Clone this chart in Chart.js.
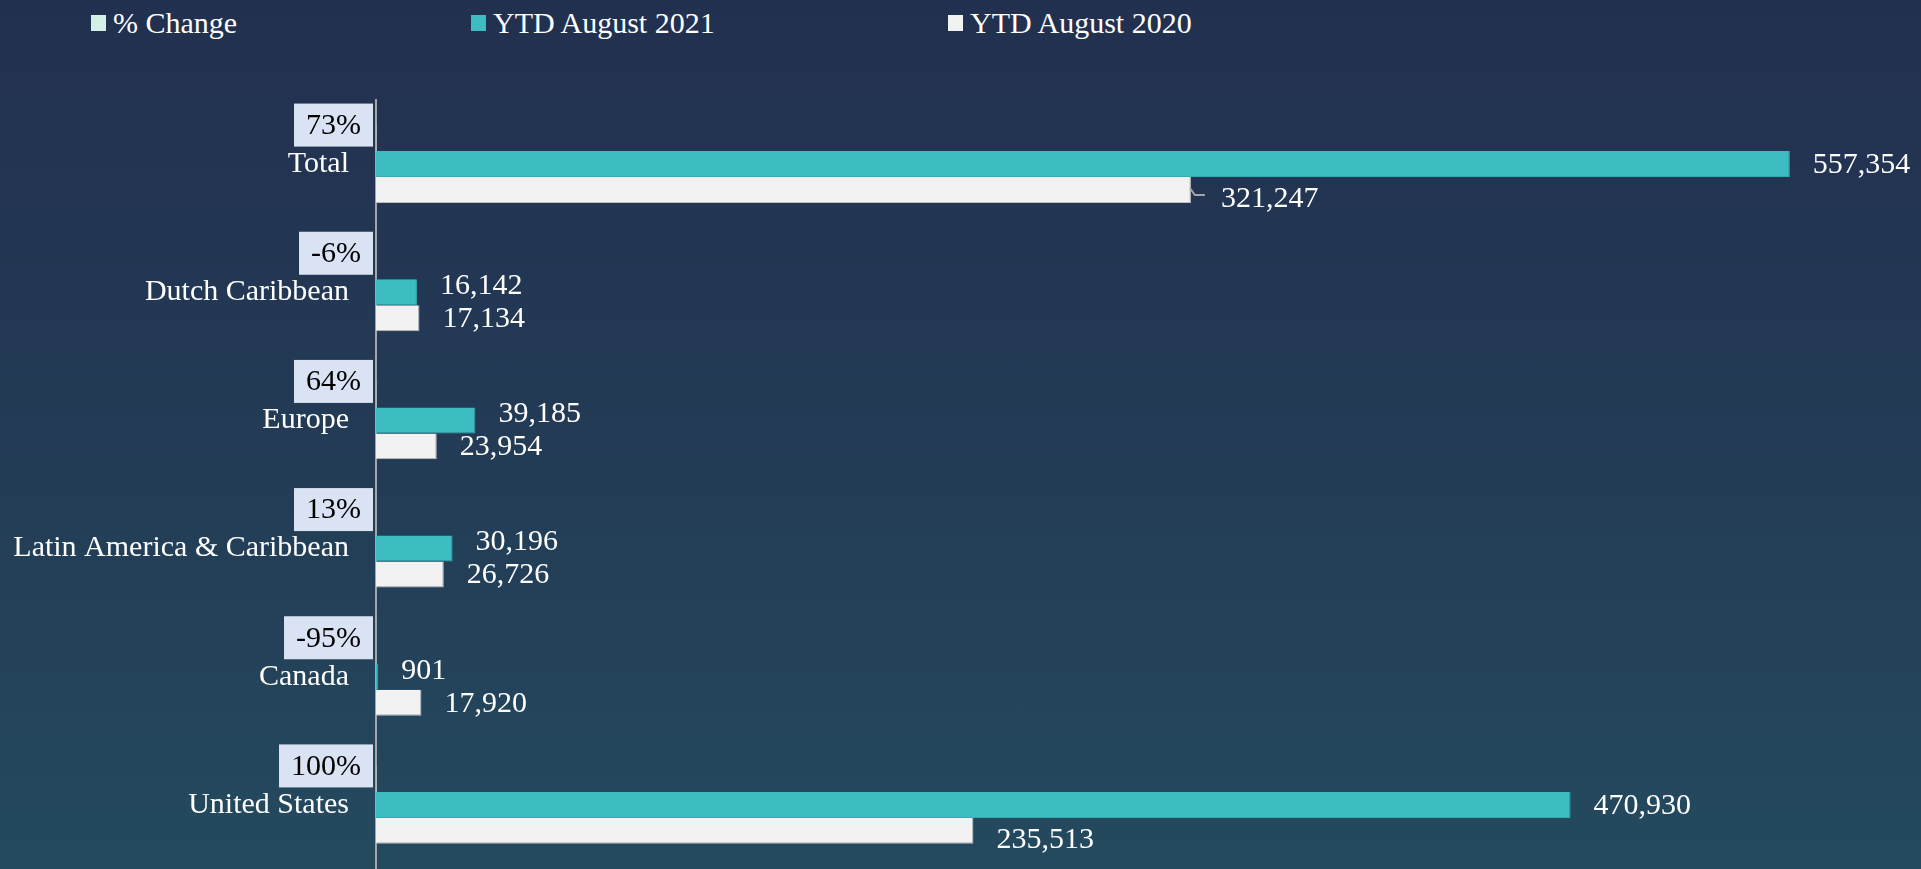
<!DOCTYPE html>
<html>
<head>
<meta charset="utf-8">
<script src="https://cdn.jsdelivr.net/npm/chart.js@4.4.0/dist/chart.umd.min.js"></script>
<style>
  html, body { margin: 0; padding: 0; }
  body {
    width: 1921px; height: 869px; overflow: hidden; position: relative;
    background: linear-gradient(to bottom, #22304f 0%, #233c56 55%, #244a5e 100%);
    font-family: "Liberation Serif", serif;
  }
  #wrap { position: absolute; left: 0; top: 0; width: 1921px; height: 869px; }
  #legend { position: absolute; top: 0; left: 0; width: 1921px; height: 46px; }
  .lg { position: absolute; top: 6px; height: 34px; display: flex; align-items: center; color: #fff; font-size: 30px; white-space: nowrap; }
  .lg i { display: inline-block; width: 15px; height: 16px; margin-right: 7px; }
</style>
</head>
<body>
<div id="legend"></div>
<div id="wrap"><canvas id="chart" width="1921" height="869"></canvas></div>
<script>
// Arrivals by market, YTD August
const regions = ['Total', 'Dutch Caribbean', 'Europe', 'Latin America & Caribbean', 'Canada', 'United States'];
const pctChange = [73, -6, 64, 13, -95, 100];
const ytd2021 = [557354, 16142, 39185, 30196, 901, 470930];
const ytd2020 = [321247, 17134, 23954, 26726, 17920, 235513];

const seriesNames = ['% Change', 'YTD August 2021', 'YTD August 2020'];
const seriesColors = ['#d4f0e6', '#3dbdc2', '#f2f2f2'];

const FONT = '"Liberation Serif", serif';
const fmt = v => v.toLocaleString('en-US');

// boxes with the % change, sitting above each group, right against the axis
const pctBoxes = {
    id: 'pctBoxes',
    afterDatasetsDraw(chart) {
        const ctx = chart.ctx;
        const ys = chart.scales.y;
        const axisX = chart.chartArea.left;
        ctx.save();
        ctx.font = '30px ' + FONT;
        ctx.textBaseline = 'middle';
        ctx.textAlign = 'center';
        pctChange.forEach((p, i) => {
            const txt = p + '%';
            const w = ctx.measureText(txt).width + 24;
            const h = 43;
            const cy = ys.getPixelForValue(i) - 39;
            const x0 = axisX - 3 - w;
            ctx.fillStyle = '#dae3f3';
            ctx.fillRect(x0, cy - h / 2, w, h);
            ctx.fillStyle = '#000';
            ctx.fillText(txt, x0 + w / 2, cy + 1);
        });
        ctx.restore();
    }
};

// value labels at the end of the bars
const valueLabels = {
    id: 'valueLabels',
    afterDatasetsDraw(chart) {
        const ctx = chart.ctx;
        ctx.save();
        ctx.font = '30px ' + FONT;
        ctx.fillStyle = '#fff';
        ctx.textBaseline = 'middle';
        ctx.textAlign = 'left';
        [1, 2].forEach(di => {
            const meta = chart.getDatasetMeta(di);
            const vals = chart.data.datasets[di].data;
            meta.data.forEach((bar, i) => {
                let dy = 0;
                let dx = 23;
                if (di === 1 && vals[i] < 100000) dy = -7;
                if (di === 2 && vals[i] > 100000) dy = 8;
                if (di === 2 && vals[i] > 300000) {
                    // leader line
                    ctx.strokeStyle = '#a6a6a6';
                    ctx.lineWidth = 2;
                    ctx.beginPath();
                    ctx.moveTo(bar.x - 1, bar.y - 2);
                    ctx.lineTo(bar.x + 4, bar.y + 5);
                    ctx.lineTo(bar.x + 14, bar.y + 5);
                    ctx.stroke();
                    dx = 30;
                }
                ctx.fillText(fmt(vals[i]), bar.x + dx, bar.y + dy + 1);
            });
        });
        ctx.restore();
    }
};

const ctx = document.getElementById('chart').getContext('2d');
const chart = new Chart(ctx, {
    type: 'bar',
    data: {
        labels: regions,
        datasets: [
            { label: seriesNames[0], data: pctChange, backgroundColor: seriesColors[0] },
            { label: seriesNames[1], data: ytd2021, backgroundColor: seriesColors[1],
              borderColor: '#35aab0', borderWidth: { bottom: 1, right: 1 }, borderSkipped: 'left' },
            { label: seriesNames[2], data: ytd2020, backgroundColor: seriesColors[2],
              borderColor: '#bfbfbf', borderWidth: { bottom: 1, right: 1 }, borderSkipped: 'left' }
        ]
    },
    options: {
        indexAxis: 'y',
        responsive: false,
        animation: false,
        categoryPercentage: 0.607,
        barPercentage: 1,
        layout: { padding: { top: 100, right: 23, bottom: 0, left: 0 } },
        scales: {
            x: { display: false, min: 0, max: 600000 },
            y: {
                grid: { display: false, drawTicks: false },
                border: { display: true, color: '#a6a6a6', width: 2 },
                ticks: { color: '#fff', font: { family: FONT, size: 30 }, padding: 27 },
                afterFit: s => { s.width = 376; s.paddingTop = 0; s.paddingBottom = 0; }
            }
        },
        plugins: {
            legend: { display: false },
            tooltip: { enabled: false }
        }
    },
    plugins: [pctBoxes, valueLabels]
});

// legend
const legendLeft = [91, 471, 948];
const lg = document.getElementById('legend');
chart.data.datasets.forEach((d, i) => {
    const item = document.createElement('div');
    item.className = 'lg';
    item.style.left = legendLeft[i] + 'px';
    item.innerHTML = '<i style="background:' + d.backgroundColor + '"></i>' + d.label;
    lg.appendChild(item);
});
</script>
</body>
</html>
